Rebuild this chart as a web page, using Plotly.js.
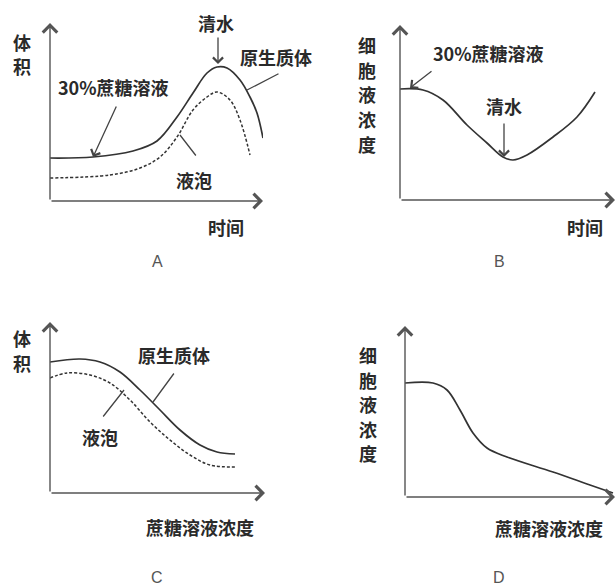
<!DOCTYPE html>
<html><head><meta charset="utf-8">
<script src="https://cdn.plot.ly/plotly-3.0.1.min.js"></script>
<style>html,body{margin:0;padding:0;background:#fff}</style>
</head><body><div id="chart" style="width:616px;height:586px"></div>
<script>
// ---- data (arbitrary units) ----
// A: volume vs time
const aTime = [0, 43, 83, 107, 127, 143, 157, 167, 177, 190, 200, 207, 213];
const aProtoplast = [43, 44, 50, 60, 84, 108, 128, 134, 133, 121, 104, 88, 63];
const aVacTime = [0, 60, 90, 110, 127, 143, 157, 167, 180, 190, 200];
const aVacuole = [23, 26, 33, 44, 64, 91, 104, 109, 101, 81, 46];
// B: cell sap concentration vs time
const bTime = [0, 23, 43, 67, 87, 103, 113, 127, 153, 177, 195];
const bConc = [111, 110, 100, 75, 57, 43, 40, 45, 63, 83, 108];
// C: volume vs sucrose concentration
const cConc = [0, 30, 50, 70, 90, 110, 130, 150, 167, 185];
const cProtoplast = [131, 134, 131, 121, 103, 83, 63, 48, 41, 39];
const cVacConc = [0, 17, 40, 60, 80, 100, 120, 140, 160, 187];
const cVacuole = [115, 120, 118, 110, 93, 71, 53, 38, 28, 26];
// D: cell sap concentration vs sucrose concentration
const dConc = [0, 28, 42, 55, 68, 82, 102, 148, 185, 208];
const dSap = [114, 114, 107, 87, 64, 49, 40, 25, 12, 4];

// ---- text ----
const volumeLabel = ['体', '积'];
const sapLabel = ['细', '胞', '液', '浓', '度'];
const timeLabel = '时间';
const sucroseLabel = '蔗糖溶液浓度';
const sucrose30 = '30%蔗糖溶液';
const water = '清水';
const protoplastLabel = '原生质体';
const vacuoleLabel = '液泡';
const panelNames = ['A', 'B', 'C', 'D'];

// ---- layout helpers ----
const W = 616, H = 586;
const ink = '#2a2a2a', axisInk = '#555';
const cjk = {family: '"Noto Sans CJK SC", "Noto Sans", sans-serif', size: 18, color: ink, weight: 700};
const latin = {family: '"Liberation Sans", Arial, sans-serif', size: 16, color: '#555'};

function panel(ox, oy, w, h, n) {
  const sfx = n === 1 ? '' : String(n);
  return {
    ['xaxis' + sfx]: {domain: [ox / W, (ox + w) / W], range: [0, w], visible: false, fixedrange: true, anchor: 'y' + sfx},
    ['yaxis' + sfx]: {domain: [(H - oy) / H, (H - oy + h) / H], range: [0, h], visible: false, fixedrange: true, anchor: 'x' + sfx}
  };
}
function label(text, px, py, font, extra) {
  return Object.assign({xref: 'paper', yref: 'paper', x: px / W, y: 1 - py / H, text: text,
    showarrow: false, xanchor: 'center', yanchor: 'middle', font: font}, extra || {});
}
function vlabel(chars, px, py0, step, font) {
  return chars.map((c, i) => label(c, px, py0 + i * step, font));
}
function arrow(tx, ty, sx, sy, head, width, size, color) {
  return {xref: 'paper', yref: 'paper', x: tx / W, y: 1 - ty / H, ax: sx - tx, ay: sy - ty,
    axref: 'pixel', ayref: 'pixel', text: '', showarrow: true, arrowhead: head,
    arrowwidth: width, arrowsize: size, arrowcolor: color, standoff: 0, startstandoff: 0};
}

const solid = {color: '#333', width: 1.7, shape: 'spline', smoothing: 1};
const dashed = {color: '#333', width: 1.5, shape: 'spline', smoothing: 1, dash: '3px,2px'};

const traces = [
  {x: aTime, y: aProtoplast, xaxis: 'x', yaxis: 'y', mode: 'lines', line: solid},
  {x: aVacTime, y: aVacuole, xaxis: 'x', yaxis: 'y', mode: 'lines', line: dashed},
  {x: bTime, y: bConc, xaxis: 'x2', yaxis: 'y2', mode: 'lines', line: solid},
  {x: cConc, y: cProtoplast, xaxis: 'x3', yaxis: 'y3', mode: 'lines', line: solid},
  {x: cVacConc, y: cVacuole, xaxis: 'x3', yaxis: 'y3', mode: 'lines', line: dashed},
  {x: dConc, y: dSap, xaxis: 'x4', yaxis: 'y4', mode: 'lines', line: solid}
];

const axSize = 2;
const annotations = [
  // axes with open arrowheads
  arrow(263, 201, 50, 201, 4, 1.4, axSize, axisInk), arrow(50, 23, 50, 201, 4, 1.4, axSize, axisInk),
  arrow(615, 200, 400, 200, 4, 1.4, axSize, axisInk), arrow(400, 25, 400, 200, 4, 1.4, axSize, axisInk),
  arrow(265, 493, 50, 493, 4, 1.4, axSize, axisInk), arrow(50, 322, 50, 493, 4, 1.4, axSize, axisInk),
  arrow(615, 497, 405, 497, 4, 1.4, axSize, axisInk), arrow(405, 326, 405, 497, 4, 1.4, axSize, axisInk),
  // axis titles
  ...vlabel(volumeLabel, 22, 42, 24, cjk), label(timeLabel, 226, 227, cjk),
  ...vlabel(sapLabel, 367, 45, 24.7, cjk), label(timeLabel, 585, 227, cjk),
  ...vlabel(volumeLabel, 22, 338, 25, cjk), label(sucroseLabel, 200, 527, cjk),
  ...vlabel(sapLabel, 368, 355, 24.5, cjk), label(sucroseLabel, 549, 528, cjk),
  // panel letters
  label(panelNames[0], 157, 261, latin), label(panelNames[1], 499, 261, latin),
  label(panelNames[2], 157, 577, latin), label(panelNames[3], 499, 577, latin),
  // panel A notes
  label(sucrose30, 113, 87, cjk), arrow(93, 157, 117, 105, 4, 1.3, 1.5, '#444'),
  label(water, 216, 23, cjk), arrow(218, 64, 218, 36, 4, 1.3, 1.5, '#444'),
  label(protoplastLabel, 276, 57, cjk), arrow(247, 90, 280, 73, 0, 1.3, 1, '#444'),
  label(vacuoleLabel, 194, 180, cjk), arrow(180, 135, 197, 157, 0, 1.3, 1, '#444'),
  // panel B notes
  label(sucrose30, 488, 53, cjk), arrow(410, 88, 433, 70, 4, 1.3, 1.5, '#444'),
  label(water, 504, 106, cjk), arrow(504, 157, 504, 122, 4, 1.3, 1.5, '#444'),
  // panel C notes
  label(protoplastLabel, 174, 355, cjk), arrow(153, 402, 175, 372, 0, 1.3, 1, '#444'),
  label(vacuoleLabel, 100, 437, cjk), arrow(124, 390, 102, 418, 0, 1.3, 1, '#444')
];

const layout = Object.assign({
  width: W, height: H, autosize: false,
  margin: {l: 0, r: 0, t: 0, b: 0, pad: 0},
  paper_bgcolor: '#fff', plot_bgcolor: 'rgba(0,0,0,0)',
  showlegend: false, annotations: annotations
}, panel(50, 201, 213, 178, 1), panel(400, 200, 215, 175, 2), panel(50, 493, 215, 171, 3), panel(405, 497, 210, 171, 4));

Plotly.newPlot('chart', traces, layout, {staticPlot: true, displayModeBar: false});
</script></body></html>
